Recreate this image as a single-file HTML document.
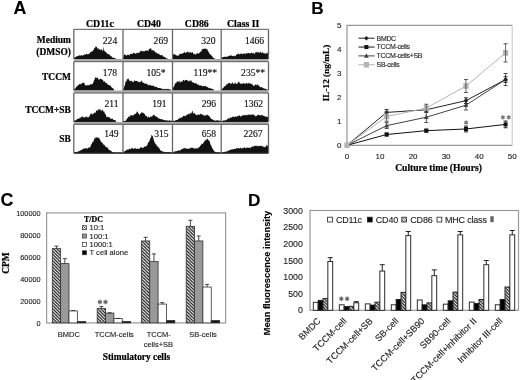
<!DOCTYPE html>
<html><head><meta charset="utf-8"><style>
html,body{margin:0;padding:0;background:#fff;}
body{width:520px;height:380px;overflow:hidden;}
svg{display:block;filter:blur(0.3px);}
</style></head><body>
<svg width="520" height="380" viewBox="0 0 520 380">
<rect width="520" height="380" fill="#fff"/>
<text x="13.50" y="13.90" font-family="'Liberation Sans', sans-serif" font-size="17.8" font-weight="bold" text-anchor="start" fill="#000"  stroke="#000" stroke-width="0.12">A</text>
<text x="311.20" y="13.90" font-family="'Liberation Sans', sans-serif" font-size="17.2" font-weight="bold" text-anchor="start" fill="#000"  stroke="#000" stroke-width="0.12">B</text>
<text x="0.40" y="205.70" font-family="'Liberation Sans', sans-serif" font-size="17.8" font-weight="bold" text-anchor="start" fill="#000"  stroke="#000" stroke-width="0.12">C</text>
<text x="247.90" y="205.80" font-family="'Liberation Sans', sans-serif" font-size="17.2" font-weight="bold" text-anchor="start" fill="#000"  stroke="#000" stroke-width="0.12">D</text>
<path d="M74.00,59.00 L74.00,58.36 L74.50,57.63 L75.00,57.55 L75.50,56.73 L76.00,56.99 L76.50,56.57 L77.00,55.98 L77.50,56.38 L78.00,55.67 L78.50,56.02 L79.00,55.43 L79.50,55.31 L80.00,55.61 L80.50,56.02 L81.00,54.95 L81.50,54.98 L82.00,55.44 L82.50,55.79 L83.00,55.17 L83.50,54.81 L84.00,55.56 L84.50,54.09 L85.00,55.20 L85.50,54.26 L86.00,53.94 L86.50,53.80 L87.00,54.01 L87.50,54.72 L88.00,53.62 L88.50,54.17 L89.00,54.02 L89.50,53.23 L90.00,53.19 L90.50,51.95 L91.00,51.57 L91.50,51.49 L92.00,51.97 L92.50,50.94 L93.00,50.19 L93.50,50.30 L94.00,49.08 L94.50,47.70 L95.00,47.94 L95.50,46.70 L96.00,45.91 L96.50,47.09 L97.00,47.31 L97.50,48.55 L98.00,48.68 L98.50,48.07 L99.00,50.30 L99.50,48.68 L100.00,49.51 L100.50,50.42 L101.00,49.10 L101.50,50.01 L102.00,49.12 L102.50,50.73 L103.00,51.10 L103.50,46.33 L104.00,51.38 L104.50,50.29 L105.00,51.61 L105.50,51.89 L106.00,52.36 L106.50,52.62 L107.00,53.80 L107.50,54.35 L108.00,53.81 L108.50,54.36 L109.00,53.67 L109.50,54.90 L110.00,55.07 L110.50,55.94 L111.00,56.30 L111.50,56.26 L112.00,57.03 L112.50,57.69 L113.00,57.27 L113.50,57.88 L114.00,57.83 L114.50,57.98 L115.00,58.11 L115.50,58.84 L116.00,58.52 L116.00,59.00 Z" fill="#111"/>
<path d="M123.00,59.00 L123.00,58.30 L123.50,56.37 L124.00,55.07 L124.50,53.99 L125.00,54.67 L125.50,54.95 L126.00,55.55 L126.50,55.42 L127.00,55.45 L127.50,54.56 L128.00,54.72 L128.50,54.59 L129.00,55.33 L129.50,55.41 L130.00,54.10 L130.50,53.96 L131.00,53.86 L131.50,53.68 L132.00,53.91 L132.50,53.90 L133.00,53.18 L133.50,52.55 L134.00,53.14 L134.50,53.02 L135.00,53.32 L135.50,53.97 L136.00,53.47 L136.50,53.12 L137.00,53.26 L137.50,53.33 L138.00,51.97 L138.50,53.21 L139.00,52.65 L139.50,52.52 L140.00,52.04 L140.50,50.84 L141.00,50.92 L141.50,50.47 L142.00,51.75 L142.50,50.74 L143.00,50.93 L143.50,51.39 L144.00,51.22 L144.50,51.45 L145.00,50.73 L145.50,50.48 L146.00,50.66 L146.50,50.41 L147.00,50.84 L147.50,49.98 L148.00,51.48 L148.50,50.56 L149.00,49.12 L149.50,48.99 L150.00,48.86 L150.50,48.54 L151.00,47.75 L151.50,50.04 L152.00,50.84 L152.50,50.06 L153.00,50.58 L153.50,50.17 L154.00,50.55 L154.50,51.39 L155.00,51.56 L155.50,52.98 L156.00,52.04 L156.50,52.13 L157.00,54.09 L157.50,53.62 L158.00,53.18 L158.50,54.03 L159.00,53.40 L159.50,54.39 L160.00,55.27 L160.50,55.27 L161.00,55.21 L161.50,54.85 L162.00,55.31 L162.50,55.37 L163.00,56.45 L163.50,56.45 L164.00,57.04 L164.50,56.85 L165.00,57.06 L165.50,57.86 L166.00,58.20 L166.50,58.25 L167.00,58.39 L167.50,58.58 L168.00,58.69 L168.00,59.00 Z" fill="#111"/>
<path d="M172.50,59.00 L172.50,58.28 L173.00,55.31 L173.50,54.07 L174.00,54.10 L174.50,54.32 L175.00,54.68 L175.50,54.65 L176.00,55.28 L176.50,55.66 L177.00,54.92 L177.50,55.63 L178.00,55.70 L178.50,55.66 L179.00,54.70 L179.50,54.22 L180.00,53.96 L180.50,53.65 L181.00,53.39 L181.50,53.83 L182.00,54.06 L182.50,53.72 L183.00,52.82 L183.50,52.89 L184.00,53.02 L184.50,51.57 L185.00,52.59 L185.50,53.00 L186.00,52.67 L186.50,52.53 L187.00,51.96 L187.50,51.36 L188.00,52.57 L188.50,51.67 L189.00,52.60 L189.50,52.93 L190.00,51.79 L190.50,51.80 L191.00,53.07 L191.50,52.89 L192.00,52.11 L192.50,52.30 L193.00,52.62 L193.50,54.18 L194.00,54.25 L194.50,53.43 L195.00,54.47 L195.50,54.66 L196.00,54.07 L196.50,53.50 L197.00,53.77 L197.50,53.00 L198.00,52.74 L198.50,54.31 L199.00,53.27 L199.50,52.55 L200.00,52.86 L200.50,51.36 L201.00,51.80 L201.50,51.23 L202.00,49.32 L202.50,48.97 L203.00,48.90 L203.50,48.61 L204.00,49.31 L204.50,48.39 L205.00,48.80 L205.50,48.07 L206.00,50.03 L206.50,48.63 L207.00,48.89 L207.50,49.62 L208.00,51.39 L208.50,51.36 L209.00,53.36 L209.50,53.38 L210.00,54.05 L210.50,54.66 L211.00,54.58 L211.50,55.80 L212.00,56.13 L212.50,56.60 L213.00,58.03 L213.50,57.81 L214.00,58.23 L214.50,58.60 L215.00,58.61 L215.10,59.00 Z" fill="#111"/>
<path d="M221.50,59.00 L221.50,58.36 L222.00,57.42 L222.50,57.36 L223.00,57.51 L223.50,56.70 L224.00,57.09 L224.50,56.66 L225.00,56.59 L225.50,57.05 L226.00,56.66 L226.50,56.63 L227.00,56.75 L227.50,56.79 L228.00,56.07 L228.50,56.13 L229.00,55.85 L229.50,55.71 L230.00,55.80 L230.50,55.32 L231.00,55.38 L231.50,55.40 L232.00,56.11 L232.50,55.87 L233.00,56.19 L233.50,56.36 L234.00,55.57 L234.50,56.04 L235.00,56.42 L235.50,56.04 L236.00,54.83 L236.50,54.54 L237.00,54.74 L237.50,53.92 L238.00,53.90 L238.50,53.36 L239.00,54.22 L239.50,54.35 L240.00,54.48 L240.50,53.18 L241.00,54.05 L241.50,53.90 L242.00,52.96 L242.50,54.15 L243.00,54.28 L243.50,52.97 L244.00,54.20 L244.50,53.22 L245.00,53.35 L245.50,54.20 L246.00,53.90 L246.50,52.71 L247.00,53.21 L247.50,53.38 L248.00,53.10 L248.50,52.88 L249.00,53.12 L249.50,53.84 L250.00,52.66 L250.50,53.58 L251.00,53.32 L251.50,52.52 L252.00,53.00 L252.50,53.45 L253.00,53.19 L253.50,52.33 L254.00,53.91 L254.50,53.49 L255.00,53.74 L255.50,52.07 L256.00,52.28 L256.50,51.77 L257.00,53.07 L257.50,52.02 L258.00,51.66 L258.50,52.14 L259.00,53.00 L259.50,52.74 L260.00,51.56 L260.50,51.43 L261.00,53.11 L261.50,52.63 L262.00,53.06 L262.50,52.14 L263.00,52.29 L263.50,53.60 L264.00,53.33 L264.50,52.71 L265.00,54.13 L265.50,53.53 L266.00,53.75 L266.50,52.41 L267.00,53.71 L267.50,52.22 L268.00,53.65 L268.00,59.00 Z" fill="#111"/>
<line x1="73.8" y1="29.3" x2="268.5" y2="29.3" stroke="#555" stroke-width="1"/>
<rect x="73.8" y="59.0" width="194.7" height="2.3" fill="#aaa"/>
<line x1="73.8" y1="29.3" x2="73.8" y2="59.0" stroke="#666" stroke-width="1.3"/>
<line x1="123.0" y1="29.3" x2="123.0" y2="59.0" stroke="#666" stroke-width="1.3"/>
<line x1="172.5" y1="29.3" x2="172.5" y2="59.0" stroke="#666" stroke-width="1.3"/>
<line x1="221.2" y1="29.3" x2="221.2" y2="59.0" stroke="#666" stroke-width="1.3"/>
<line x1="268.5" y1="29.3" x2="268.5" y2="59.0" stroke="#666" stroke-width="1.3"/>
<path d="M74.00,90.50 L74.00,89.36 L74.50,88.74 L75.00,88.46 L75.50,88.43 L76.00,87.16 L76.50,86.47 L77.00,86.54 L77.50,85.76 L78.00,85.20 L78.50,84.91 L79.00,84.36 L79.50,84.25 L80.00,84.12 L80.50,83.88 L81.00,84.50 L81.50,83.39 L82.00,83.57 L82.50,82.71 L83.00,82.82 L83.50,82.23 L84.00,83.25 L84.50,83.36 L85.00,85.18 L85.50,85.38 L86.00,84.94 L86.50,85.33 L87.00,86.00 L87.50,84.54 L88.00,85.66 L88.50,84.92 L89.00,84.88 L89.50,85.28 L90.00,84.31 L90.50,84.32 L91.00,84.47 L91.50,84.84 L92.00,83.43 L92.50,84.19 L93.00,83.16 L93.50,82.06 L94.00,80.53 L94.50,79.41 L95.00,77.91 L95.50,77.38 L96.00,76.52 L96.50,78.54 L97.00,77.65 L97.50,77.75 L98.00,77.65 L98.50,79.66 L99.00,79.83 L99.50,79.43 L100.00,78.61 L100.50,78.67 L101.00,78.95 L101.50,79.54 L102.00,79.02 L102.50,79.98 L103.00,79.75 L103.50,81.74 L104.00,81.98 L104.50,81.23 L105.00,81.14 L105.50,83.35 L106.00,82.53 L106.50,83.25 L107.00,83.21 L107.50,84.39 L108.00,84.81 L108.50,85.10 L109.00,84.86 L109.50,85.61 L110.00,85.08 L110.50,85.90 L111.00,86.32 L111.50,87.39 L112.00,87.62 L112.50,88.04 L113.00,88.60 L113.50,88.79 L114.00,89.38 L114.20,90.50 Z" fill="#111"/>
<path d="M123.00,90.50 L123.00,89.43 L123.50,88.72 L124.00,87.70 L124.50,86.06 L125.00,84.65 L125.50,82.06 L126.00,80.92 L126.50,81.58 L127.00,78.50 L127.50,79.22 L128.00,79.31 L128.50,78.09 L129.00,80.38 L129.50,80.81 L130.00,80.45 L130.50,81.06 L131.00,81.57 L131.50,80.27 L132.00,81.52 L132.50,81.81 L133.00,82.52 L133.50,81.85 L134.00,81.31 L134.50,80.06 L135.00,80.88 L135.50,80.83 L136.00,81.33 L136.50,80.70 L137.00,80.75 L137.50,81.50 L138.00,82.08 L138.50,81.32 L139.00,82.76 L139.50,81.94 L140.00,81.91 L140.50,81.72 L141.00,81.66 L141.50,81.01 L142.00,80.17 L142.50,82.46 L143.00,82.76 L143.50,82.64 L144.00,83.14 L144.50,83.82 L145.00,82.82 L145.50,84.29 L146.00,83.53 L146.50,83.38 L147.00,83.90 L147.50,84.91 L148.00,84.08 L148.50,85.13 L149.00,85.64 L149.50,84.90 L150.00,84.81 L150.50,85.08 L151.00,85.52 L151.50,85.78 L152.00,85.75 L152.50,86.00 L153.00,85.35 L153.50,85.69 L154.00,86.08 L154.50,86.99 L155.00,86.60 L155.50,87.14 L156.00,86.53 L156.50,86.73 L157.00,87.13 L157.50,87.77 L158.00,87.91 L158.50,88.01 L159.00,87.68 L159.50,88.07 L160.00,88.14 L160.50,88.27 L161.00,88.02 L161.50,88.98 L162.00,88.38 L162.50,89.31 L163.00,89.38 L163.50,88.52 L164.00,88.96 L164.50,89.32 L165.00,89.46 L165.50,88.95 L166.00,88.77 L166.50,88.71 L167.00,89.44 L167.50,88.76 L168.00,89.17 L168.50,88.80 L169.00,89.22 L169.50,89.67 L170.00,88.95 L170.50,89.65 L171.00,89.41 L171.00,90.50 Z" fill="#111"/>
<path d="M172.50,90.50 L172.50,89.76 L173.00,88.24 L173.50,86.77 L174.00,86.84 L174.50,85.35 L175.00,83.64 L175.50,82.89 L176.00,83.17 L176.50,82.42 L177.00,81.54 L177.50,81.13 L178.00,81.53 L178.50,81.42 L179.00,82.56 L179.50,80.59 L180.00,82.26 L180.50,82.42 L181.00,80.62 L181.50,82.29 L182.00,81.55 L182.50,81.79 L183.00,80.04 L183.50,80.01 L184.00,79.82 L184.50,81.34 L185.00,80.45 L185.50,80.02 L186.00,80.33 L186.50,80.10 L187.00,79.69 L187.50,79.97 L188.00,81.81 L188.50,80.48 L189.00,82.06 L189.50,80.39 L190.00,80.43 L190.50,81.03 L191.00,80.25 L191.50,80.69 L192.00,82.30 L192.50,82.36 L193.00,82.44 L193.50,82.27 L194.00,83.14 L194.50,83.44 L195.00,82.85 L195.50,83.45 L196.00,82.41 L196.50,84.10 L197.00,83.87 L197.50,84.75 L198.00,84.86 L198.50,84.55 L199.00,84.49 L199.50,86.20 L200.00,84.98 L200.50,85.59 L201.00,85.45 L201.50,85.44 L202.00,86.20 L202.50,86.63 L203.00,85.58 L203.50,86.26 L204.00,85.85 L204.50,86.37 L205.00,86.26 L205.50,86.06 L206.00,86.19 L206.50,86.39 L207.00,87.48 L207.50,87.10 L208.00,87.00 L208.50,88.12 L209.00,88.46 L209.50,88.07 L210.00,87.99 L210.50,88.32 L211.00,88.48 L211.50,88.89 L212.00,88.71 L212.50,88.93 L213.00,89.02 L213.50,89.38 L214.00,89.74 L214.10,90.50 Z" fill="#111"/>
<path d="M221.50,90.50 L221.50,89.63 L222.00,88.91 L222.50,88.48 L223.00,88.17 L223.50,87.56 L224.00,87.07 L224.50,86.24 L225.00,86.04 L225.50,86.45 L226.00,84.42 L226.50,84.40 L227.00,84.20 L227.50,84.52 L228.00,83.15 L228.50,83.12 L229.00,82.95 L229.50,83.12 L230.00,83.09 L230.50,84.01 L231.00,83.75 L231.50,83.86 L232.00,82.18 L232.50,82.27 L233.00,83.71 L233.50,84.14 L234.00,83.36 L234.50,83.65 L235.00,82.43 L235.50,83.08 L236.00,84.04 L236.50,83.71 L237.00,83.65 L237.50,83.78 L238.00,82.12 L238.50,81.68 L239.00,81.86 L239.50,82.78 L240.00,83.24 L240.50,83.90 L241.00,83.57 L241.50,83.54 L242.00,83.90 L242.50,83.42 L243.00,83.60 L243.50,82.59 L244.00,84.06 L244.50,82.97 L245.00,84.33 L245.50,83.79 L246.00,83.11 L246.50,82.76 L247.00,83.01 L247.50,83.77 L248.00,83.89 L248.50,82.73 L249.00,82.65 L249.50,83.55 L250.00,83.66 L250.50,83.35 L251.00,83.39 L251.50,84.44 L252.00,83.73 L252.50,84.61 L253.00,85.23 L253.50,86.20 L254.00,85.56 L254.50,85.84 L255.00,85.02 L255.50,84.48 L256.00,84.37 L256.50,85.49 L257.00,84.92 L257.50,84.41 L258.00,84.36 L258.50,85.58 L259.00,86.27 L259.50,86.30 L260.00,86.50 L260.50,87.33 L261.00,87.84 L261.50,87.12 L262.00,87.07 L262.50,87.63 L263.00,87.91 L263.50,88.39 L264.00,88.03 L264.50,88.84 L265.00,88.92 L265.50,88.82 L266.00,88.66 L266.50,89.56 L267.00,89.08 L267.50,89.69 L267.50,90.50 Z" fill="#111"/>
<line x1="73.8" y1="61.7" x2="268.5" y2="61.7" stroke="#555" stroke-width="1"/>
<rect x="73.8" y="90.5" width="194.7" height="2.3" fill="#aaa"/>
<line x1="73.8" y1="61.7" x2="73.8" y2="90.5" stroke="#666" stroke-width="1.3"/>
<line x1="123.0" y1="61.7" x2="123.0" y2="90.5" stroke="#666" stroke-width="1.3"/>
<line x1="172.5" y1="61.7" x2="172.5" y2="90.5" stroke="#666" stroke-width="1.3"/>
<line x1="221.2" y1="61.7" x2="221.2" y2="90.5" stroke="#666" stroke-width="1.3"/>
<line x1="268.5" y1="61.7" x2="268.5" y2="90.5" stroke="#666" stroke-width="1.3"/>
<path d="M74.00,121.90 L74.00,120.66 L74.50,120.39 L75.00,120.67 L75.50,119.95 L76.00,120.39 L76.50,119.65 L77.00,119.03 L77.50,118.81 L78.00,118.79 L78.50,118.85 L79.00,118.99 L79.50,117.64 L80.00,117.72 L80.50,117.20 L81.00,118.15 L81.50,116.78 L82.00,116.53 L82.50,116.44 L83.00,116.86 L83.50,117.57 L84.00,117.46 L84.50,117.11 L85.00,117.46 L85.50,117.26 L86.00,116.30 L86.50,116.23 L87.00,117.62 L87.50,117.47 L88.00,116.51 L88.50,117.66 L89.00,116.81 L89.50,116.01 L90.00,115.14 L90.50,114.02 L91.00,113.37 L91.50,113.77 L92.00,113.76 L92.50,114.89 L93.00,112.92 L93.50,114.61 L94.00,112.54 L94.50,112.45 L95.00,113.15 L95.50,112.75 L96.00,111.35 L96.50,109.96 L97.00,110.70 L97.50,110.12 L98.00,111.17 L98.50,109.02 L99.00,109.12 L99.50,110.14 L100.00,108.34 L100.50,109.69 L101.00,111.08 L101.50,111.31 L102.00,109.65 L102.50,109.80 L103.00,110.03 L103.50,112.35 L104.00,110.85 L104.50,112.47 L105.00,114.05 L105.50,114.09 L106.00,115.30 L106.50,117.33 L107.00,116.94 L107.50,116.55 L108.00,117.46 L108.50,117.01 L109.00,117.14 L109.50,116.93 L110.00,118.22 L110.50,118.65 L111.00,118.50 L111.50,119.15 L112.00,118.21 L112.50,118.74 L113.00,119.29 L113.50,120.09 L114.00,120.32 L114.50,119.96 L115.00,120.08 L115.50,120.53 L116.00,120.84 L116.10,121.90 Z" fill="#111"/>
<path d="M123.00,121.90 L123.00,121.29 L123.50,120.53 L124.00,121.02 L124.50,120.88 L125.00,120.88 L125.50,120.76 L126.00,120.52 L126.50,119.44 L127.00,118.64 L127.50,117.90 L128.00,117.85 L128.50,116.50 L129.00,116.42 L129.50,117.08 L130.00,115.97 L130.50,115.39 L131.00,115.01 L131.50,115.58 L132.00,114.78 L132.50,115.71 L133.00,115.36 L133.50,115.69 L134.00,114.37 L134.50,114.15 L135.00,113.79 L135.50,113.92 L136.00,113.71 L136.50,112.42 L137.00,111.19 L137.50,111.75 L138.00,112.86 L138.50,113.58 L139.00,114.33 L139.50,115.12 L140.00,114.49 L140.50,112.81 L141.00,113.94 L141.50,112.18 L142.00,112.34 L142.50,112.18 L143.00,113.55 L143.50,112.84 L144.00,113.48 L144.50,114.01 L145.00,114.25 L145.50,116.08 L146.00,115.90 L146.50,115.86 L147.00,116.40 L147.50,117.77 L148.00,116.99 L148.50,116.55 L149.00,117.48 L149.50,117.23 L150.00,117.77 L150.50,116.26 L151.00,116.50 L151.50,116.73 L152.00,116.42 L152.50,116.28 L153.00,114.65 L153.50,115.12 L154.00,114.80 L154.50,114.93 L155.00,116.39 L155.50,115.83 L156.00,116.84 L156.50,116.27 L157.00,117.49 L157.50,117.23 L158.00,117.36 L158.50,118.45 L159.00,118.92 L159.50,118.05 L160.00,118.95 L160.50,119.22 L161.00,119.00 L161.50,119.36 L162.00,119.23 L162.50,119.43 L163.00,119.62 L163.50,120.11 L164.00,120.29 L164.50,119.96 L165.00,119.90 L165.50,120.27 L166.00,120.65 L166.50,120.21 L167.00,120.37 L167.50,120.30 L168.00,120.91 L168.50,120.71 L169.00,120.29 L169.50,120.36 L170.00,120.67 L170.50,120.85 L171.00,120.96 L171.50,120.50 L172.00,120.60 L172.00,121.90 Z" fill="#111"/>
<path d="M172.50,121.90 L172.50,121.08 L173.00,120.78 L173.50,120.63 L174.00,120.61 L174.50,121.17 L175.00,120.53 L175.50,120.54 L176.00,120.10 L176.50,119.92 L177.00,120.18 L177.50,120.11 L178.00,119.15 L178.50,118.71 L179.00,119.10 L179.50,118.09 L180.00,117.47 L180.50,118.41 L181.00,117.39 L181.50,117.68 L182.00,116.76 L182.50,117.37 L183.00,116.51 L183.50,115.83 L184.00,115.39 L184.50,116.16 L185.00,116.12 L185.50,116.40 L186.00,114.65 L186.50,115.43 L187.00,114.72 L187.50,114.76 L188.00,113.80 L188.50,113.85 L189.00,114.13 L189.50,114.69 L190.00,112.53 L190.50,113.04 L191.00,113.43 L191.50,113.50 L192.00,111.25 L192.50,110.72 L193.00,113.11 L193.50,113.66 L194.00,112.99 L194.50,112.56 L195.00,114.72 L195.50,113.80 L196.00,115.13 L196.50,114.78 L197.00,115.42 L197.50,114.35 L198.00,115.42 L198.50,114.12 L199.00,114.32 L199.50,115.06 L200.00,114.87 L200.50,113.41 L201.00,113.75 L201.50,114.37 L202.00,114.86 L202.50,114.84 L203.00,114.60 L203.50,115.03 L204.00,115.87 L204.50,116.15 L205.00,114.48 L205.50,115.42 L206.00,115.74 L206.50,114.31 L207.00,115.80 L207.50,114.36 L208.00,115.24 L208.50,115.39 L209.00,116.19 L209.50,116.32 L210.00,117.19 L210.50,118.11 L211.00,118.57 L211.50,119.29 L212.00,119.28 L212.50,119.53 L213.00,119.34 L213.50,120.23 L214.00,120.35 L214.50,120.18 L215.00,120.74 L215.50,120.79 L216.00,120.51 L216.50,120.28 L217.00,120.60 L217.50,120.29 L218.00,120.35 L218.50,120.67 L219.00,120.39 L219.50,120.75 L220.00,120.84 L220.50,120.45 L221.00,121.02 L221.00,121.90 Z" fill="#111"/>
<path d="M221.50,121.90 L221.50,120.53 L222.00,121.05 L222.50,121.03 L223.00,120.72 L223.50,120.14 L224.00,120.44 L224.50,120.18 L225.00,120.63 L225.50,119.65 L226.00,120.24 L226.50,120.09 L227.00,119.46 L227.50,119.24 L228.00,118.09 L228.50,118.83 L229.00,117.90 L229.50,118.45 L230.00,118.28 L230.50,117.03 L231.00,117.85 L231.50,117.95 L232.00,116.47 L232.50,116.79 L233.00,117.36 L233.50,116.33 L234.00,117.47 L234.50,116.38 L235.00,117.21 L235.50,116.03 L236.00,116.57 L236.50,117.21 L237.00,115.94 L237.50,115.97 L238.00,116.33 L238.50,115.94 L239.00,115.39 L239.50,115.58 L240.00,115.47 L240.50,116.79 L241.00,116.22 L241.50,116.49 L242.00,115.04 L242.50,116.05 L243.00,114.67 L243.50,115.33 L244.00,115.41 L244.50,114.74 L245.00,115.69 L245.50,115.00 L246.00,114.99 L246.50,115.53 L247.00,113.91 L247.50,115.64 L248.00,114.84 L248.50,114.31 L249.00,115.14 L249.50,114.05 L250.00,115.53 L250.50,114.69 L251.00,114.24 L251.50,115.07 L252.00,114.41 L252.50,113.95 L253.00,115.27 L253.50,114.08 L254.00,115.77 L254.50,114.87 L255.00,115.78 L255.50,116.59 L256.00,116.04 L256.50,116.24 L257.00,115.48 L257.50,114.78 L258.00,114.71 L258.50,114.79 L259.00,115.54 L259.50,115.07 L260.00,115.09 L260.50,115.90 L261.00,114.62 L261.50,115.00 L262.00,115.98 L262.50,115.03 L263.00,115.20 L263.50,116.01 L264.00,115.78 L264.50,116.30 L265.00,116.14 L265.50,116.81 L266.00,116.88 L266.50,116.31 L267.00,117.06 L267.50,116.88 L268.00,116.39 L268.00,121.90 Z" fill="#111"/>
<line x1="73.8" y1="93.0" x2="268.5" y2="93.0" stroke="#555" stroke-width="1"/>
<rect x="73.8" y="121.9" width="194.7" height="2.3" fill="#aaa"/>
<line x1="73.8" y1="93.0" x2="73.8" y2="121.9" stroke="#666" stroke-width="1.3"/>
<line x1="123.0" y1="93.0" x2="123.0" y2="121.9" stroke="#666" stroke-width="1.3"/>
<line x1="172.5" y1="93.0" x2="172.5" y2="121.9" stroke="#666" stroke-width="1.3"/>
<line x1="221.2" y1="93.0" x2="221.2" y2="121.9" stroke="#666" stroke-width="1.3"/>
<line x1="268.5" y1="93.0" x2="268.5" y2="121.9" stroke="#666" stroke-width="1.3"/>
<path d="M74.00,153.00 L74.00,153.00 L74.50,152.44 L75.00,152.10 L75.50,151.92 L76.00,152.26 L76.50,152.35 L77.00,152.15 L77.50,151.67 L78.00,151.41 L78.50,151.03 L79.00,151.50 L79.50,151.10 L80.00,150.55 L80.50,150.58 L81.00,150.02 L81.50,150.35 L82.00,149.78 L82.50,148.79 L83.00,149.52 L83.50,148.21 L84.00,148.86 L84.50,148.61 L85.00,148.29 L85.50,147.96 L86.00,148.98 L86.50,147.75 L87.00,148.45 L87.50,148.91 L88.00,147.47 L88.50,147.39 L89.00,147.90 L89.50,147.57 L90.00,147.28 L90.50,146.86 L91.00,144.80 L91.50,144.28 L92.00,143.19 L92.50,141.43 L93.00,142.44 L93.50,141.07 L94.00,140.11 L94.50,137.61 L95.00,139.00 L95.50,138.04 L96.00,136.62 L96.50,137.81 L97.00,137.57 L97.50,137.49 L98.00,137.67 L98.50,138.11 L99.00,137.75 L99.50,138.62 L100.00,139.79 L100.50,140.55 L101.00,141.83 L101.50,142.40 L102.00,142.10 L102.50,143.31 L103.00,143.51 L103.50,144.82 L104.00,144.70 L104.50,144.64 L105.00,145.94 L105.50,147.06 L106.00,146.14 L106.50,147.84 L107.00,146.86 L107.50,147.76 L108.00,148.15 L108.50,149.31 L109.00,149.98 L109.50,150.10 L110.00,149.97 L110.50,151.03 L111.00,150.79 L111.50,151.10 L112.00,152.13 L112.50,152.17 L113.00,152.46 L113.50,152.67 L114.00,153.00 L114.20,153.00 Z" fill="#111"/>
<path d="M123.00,153.00 L123.00,152.86 L123.50,152.44 L124.00,151.61 L124.50,151.53 L125.00,150.84 L125.50,150.91 L126.00,150.48 L126.50,149.91 L127.00,149.55 L127.50,149.95 L128.00,149.11 L128.50,150.09 L129.00,148.93 L129.50,148.63 L130.00,148.61 L130.50,149.65 L131.00,148.71 L131.50,148.35 L132.00,148.12 L132.50,148.07 L133.00,148.97 L133.50,148.82 L134.00,148.86 L134.50,148.86 L135.00,147.80 L135.50,148.61 L136.00,148.26 L136.50,148.96 L137.00,148.96 L137.50,149.07 L138.00,147.80 L138.50,149.04 L139.00,149.04 L139.50,148.97 L140.00,147.52 L140.50,147.54 L141.00,147.26 L141.50,146.99 L142.00,148.23 L142.50,148.05 L143.00,147.62 L143.50,147.83 L144.00,147.37 L144.50,146.63 L145.00,146.16 L145.50,146.02 L146.00,147.12 L146.50,145.95 L147.00,145.28 L147.50,144.63 L148.00,142.81 L148.50,142.47 L149.00,141.37 L149.50,141.30 L150.00,139.26 L150.50,137.89 L151.00,137.88 L151.50,135.08 L152.00,135.01 L152.50,136.22 L153.00,136.54 L153.50,139.17 L154.00,140.39 L154.50,142.40 L155.00,142.49 L155.50,144.32 L156.00,144.57 L156.50,144.53 L157.00,146.52 L157.50,145.67 L158.00,147.67 L158.50,147.18 L159.00,147.54 L159.50,148.48 L160.00,149.86 L160.50,150.69 L161.00,150.12 L161.50,151.01 L162.00,151.17 L162.50,151.65 L163.00,151.20 L163.50,151.67 L164.00,151.69 L164.50,152.23 L165.00,151.77 L165.50,152.43 L166.00,151.89 L166.50,151.88 L167.00,152.36 L167.50,152.23 L168.00,151.95 L168.50,152.45 L169.00,152.03 L169.50,152.66 L170.00,152.61 L170.50,152.72 L171.00,152.62 L171.50,152.44 L172.00,152.51 L172.00,153.00 Z" fill="#111"/>
<path d="M172.50,153.00 L172.50,152.80 L173.00,152.87 L173.50,151.87 L174.00,152.26 L174.50,151.28 L175.00,151.28 L175.50,151.16 L176.00,151.64 L176.50,151.06 L177.00,150.76 L177.50,151.20 L178.00,150.34 L178.50,150.47 L179.00,150.43 L179.50,150.58 L180.00,150.45 L180.50,150.20 L181.00,149.61 L181.50,149.23 L182.00,148.64 L182.50,149.30 L183.00,148.70 L183.50,148.50 L184.00,147.52 L184.50,148.08 L185.00,148.73 L185.50,148.54 L186.00,147.97 L186.50,148.61 L187.00,149.36 L187.50,148.53 L188.00,148.43 L188.50,148.47 L189.00,148.94 L189.50,149.03 L190.00,147.85 L190.50,147.72 L191.00,147.73 L191.50,147.72 L192.00,148.07 L192.50,147.55 L193.00,147.88 L193.50,147.73 L194.00,149.03 L194.50,148.70 L195.00,147.79 L195.50,149.18 L196.00,147.72 L196.50,148.04 L197.00,148.87 L197.50,148.45 L198.00,148.23 L198.50,147.61 L199.00,147.08 L199.50,147.60 L200.00,145.98 L200.50,145.47 L201.00,145.17 L201.50,143.72 L202.00,143.86 L202.50,144.18 L203.00,143.44 L203.50,142.45 L204.00,142.27 L204.50,141.33 L205.00,139.98 L205.50,140.56 L206.00,139.47 L206.50,139.72 L207.00,139.56 L207.50,138.29 L208.00,139.36 L208.50,140.52 L209.00,140.41 L209.50,140.64 L210.00,142.87 L210.50,144.41 L211.00,145.28 L211.50,146.24 L212.00,147.65 L212.50,148.40 L213.00,149.34 L213.50,150.12 L214.00,151.01 L214.50,151.73 L215.00,151.48 L215.50,152.03 L216.00,152.58 L216.50,152.60 L217.00,152.57 L217.50,152.30 L218.00,152.47 L218.50,152.54 L219.00,152.71 L219.50,152.58 L220.00,152.82 L220.00,153.00 Z" fill="#111"/>
<path d="M221.50,153.00 L221.50,153.00 L222.00,152.47 L222.50,152.68 L223.00,152.62 L223.50,152.17 L224.00,152.13 L224.50,152.43 L225.00,151.45 L225.50,151.79 L226.00,151.29 L226.50,151.77 L227.00,151.76 L227.50,151.09 L228.00,150.38 L228.50,150.66 L229.00,150.38 L229.50,150.36 L230.00,149.86 L230.50,149.78 L231.00,149.87 L231.50,149.39 L232.00,149.18 L232.50,149.86 L233.00,148.77 L233.50,149.37 L234.00,148.89 L234.50,149.36 L235.00,148.37 L235.50,149.57 L236.00,148.58 L236.50,148.07 L237.00,148.33 L237.50,148.46 L238.00,147.81 L238.50,148.36 L239.00,148.30 L239.50,148.67 L240.00,148.06 L240.50,147.86 L241.00,147.73 L241.50,148.49 L242.00,148.75 L242.50,148.02 L243.00,147.49 L243.50,148.40 L244.00,147.69 L244.50,147.36 L245.00,147.18 L245.50,148.22 L246.00,148.24 L246.50,147.91 L247.00,147.61 L247.50,147.74 L248.00,147.15 L248.50,148.37 L249.00,147.31 L249.50,147.77 L250.00,148.05 L250.50,148.00 L251.00,147.21 L251.50,146.71 L252.00,146.97 L252.50,146.00 L253.00,147.14 L253.50,146.04 L254.00,146.82 L254.50,145.59 L255.00,145.86 L255.50,145.69 L256.00,146.09 L256.50,145.69 L257.00,145.41 L257.50,146.84 L258.00,146.07 L258.50,145.93 L259.00,145.86 L259.50,146.04 L260.00,145.78 L260.50,146.04 L261.00,145.92 L261.50,145.36 L262.00,146.69 L262.50,146.72 L263.00,145.35 L263.50,147.02 L264.00,147.35 L264.50,147.30 L265.00,146.31 L265.50,147.34 L266.00,146.65 L266.50,145.10 L267.00,144.72 L267.50,146.32 L268.00,145.37 L268.00,153.00 Z" fill="#111"/>
<line x1="73.8" y1="124.3" x2="268.5" y2="124.3" stroke="#555" stroke-width="1"/>
<rect x="73.8" y="152.2" width="194.7" height="1.6" fill="#222"/>
<line x1="73.8" y1="124.3" x2="73.8" y2="153.0" stroke="#666" stroke-width="1.3"/>
<line x1="123.0" y1="124.3" x2="123.0" y2="153.0" stroke="#666" stroke-width="1.3"/>
<line x1="172.5" y1="124.3" x2="172.5" y2="153.0" stroke="#666" stroke-width="1.3"/>
<line x1="221.2" y1="124.3" x2="221.2" y2="153.0" stroke="#666" stroke-width="1.3"/>
<line x1="268.5" y1="124.3" x2="268.5" y2="153.0" stroke="#666" stroke-width="1.3"/>
<text x="99.90" y="27.40" font-family="'Liberation Serif', serif" font-size="9.8" font-weight="bold" text-anchor="middle" fill="#000"  stroke="#000" stroke-width="0.22">CD11c</text>
<text x="148.90" y="27.40" font-family="'Liberation Serif', serif" font-size="9.8" font-weight="bold" text-anchor="middle" fill="#000"  stroke="#000" stroke-width="0.22">CD40</text>
<text x="196.80" y="27.40" font-family="'Liberation Serif', serif" font-size="9.8" font-weight="bold" text-anchor="middle" fill="#000"  stroke="#000" stroke-width="0.22">CD86</text>
<text x="243.20" y="27.40" font-family="'Liberation Serif', serif" font-size="9.8" font-weight="bold" text-anchor="middle" fill="#000"  stroke="#000" stroke-width="0.22">Class II</text>
<text x="70.90" y="42.60" font-family="'Liberation Serif', serif" font-size="9.45" font-weight="bold" text-anchor="end" fill="#000"  stroke="#000" stroke-width="0.22">Medium</text>
<text x="70.90" y="54.50" font-family="'Liberation Serif', serif" font-size="9.45" font-weight="bold" text-anchor="end" fill="#000"  stroke="#000" stroke-width="0.22">(DMSO)</text>
<text x="70.90" y="80.20" font-family="'Liberation Serif', serif" font-size="9.45" font-weight="bold" text-anchor="end" fill="#000"  stroke="#000" stroke-width="0.22">TCCM</text>
<text x="70.90" y="112.80" font-family="'Liberation Serif', serif" font-size="9.45" font-weight="bold" text-anchor="end" fill="#000"  stroke="#000" stroke-width="0.22">TCCM+SB</text>
<text x="70.90" y="142.10" font-family="'Liberation Serif', serif" font-size="9.45" font-weight="bold" text-anchor="end" fill="#000"  stroke="#000" stroke-width="0.22">SB</text>
<text x="117.20" y="43.80" font-family="'Liberation Serif', serif" font-size="9.6" font-weight="normal" text-anchor="end" fill="#111" stroke="#111" stroke-width="0.15">224</text>
<text x="168.00" y="43.80" font-family="'Liberation Serif', serif" font-size="9.6" font-weight="normal" text-anchor="end" fill="#111" stroke="#111" stroke-width="0.15">269</text>
<text x="215.60" y="43.80" font-family="'Liberation Serif', serif" font-size="9.6" font-weight="normal" text-anchor="end" fill="#111" stroke="#111" stroke-width="0.15">320</text>
<text x="264.10" y="43.80" font-family="'Liberation Serif', serif" font-size="9.6" font-weight="normal" text-anchor="end" fill="#111" stroke="#111" stroke-width="0.15">1466</text>
<text x="117.10" y="75.70" font-family="'Liberation Serif', serif" font-size="9.6" font-weight="normal" text-anchor="end" fill="#111" stroke="#111" stroke-width="0.15">178</text>
<text x="165.60" y="75.70" font-family="'Liberation Serif', serif" font-size="9.6" font-weight="normal" text-anchor="end" fill="#111" stroke="#111" stroke-width="0.15">105*</text>
<text x="217.10" y="75.70" font-family="'Liberation Serif', serif" font-size="9.6" font-weight="normal" text-anchor="end" fill="#111" stroke="#111" stroke-width="0.15">119**</text>
<text x="265.10" y="75.70" font-family="'Liberation Serif', serif" font-size="9.6" font-weight="normal" text-anchor="end" fill="#111" stroke="#111" stroke-width="0.15">235**</text>
<text x="118.60" y="106.70" font-family="'Liberation Serif', serif" font-size="9.6" font-weight="normal" text-anchor="end" fill="#111" stroke="#111" stroke-width="0.15">211</text>
<text x="166.60" y="106.70" font-family="'Liberation Serif', serif" font-size="9.6" font-weight="normal" text-anchor="end" fill="#111" stroke="#111" stroke-width="0.15">191</text>
<text x="216.10" y="106.70" font-family="'Liberation Serif', serif" font-size="9.6" font-weight="normal" text-anchor="end" fill="#111" stroke="#111" stroke-width="0.15">296</text>
<text x="263.10" y="106.70" font-family="'Liberation Serif', serif" font-size="9.6" font-weight="normal" text-anchor="end" fill="#111" stroke="#111" stroke-width="0.15">1362</text>
<text x="118.60" y="136.70" font-family="'Liberation Serif', serif" font-size="9.6" font-weight="normal" text-anchor="end" fill="#111" stroke="#111" stroke-width="0.15">149</text>
<text x="168.60" y="136.70" font-family="'Liberation Serif', serif" font-size="9.6" font-weight="normal" text-anchor="end" fill="#111" stroke="#111" stroke-width="0.15">315</text>
<text x="216.10" y="136.70" font-family="'Liberation Serif', serif" font-size="9.6" font-weight="normal" text-anchor="end" fill="#111" stroke="#111" stroke-width="0.15">658</text>
<text x="262.60" y="136.70" font-family="'Liberation Serif', serif" font-size="9.6" font-weight="normal" text-anchor="end" fill="#111" stroke="#111" stroke-width="0.15">2267</text>
<path d="M512.2,25.3 V145.3" stroke="#c4c4c4" stroke-width="1"/>
<path d="M512.2,25.3 H347.0 V145.3 H512.2" fill="none" stroke="#999" stroke-width="1.25"/>
<text x="341.50" y="148.10" font-family="'Liberation Sans', sans-serif" font-size="8.0" font-weight="normal" text-anchor="end" fill="#222"  stroke="#222" stroke-width="0.12">0</text>
<text x="341.50" y="124.10" font-family="'Liberation Sans', sans-serif" font-size="8.0" font-weight="normal" text-anchor="end" fill="#222"  stroke="#222" stroke-width="0.12">1</text>
<text x="341.50" y="100.10" font-family="'Liberation Sans', sans-serif" font-size="8.0" font-weight="normal" text-anchor="end" fill="#222"  stroke="#222" stroke-width="0.12">2</text>
<text x="341.50" y="76.10" font-family="'Liberation Sans', sans-serif" font-size="8.0" font-weight="normal" text-anchor="end" fill="#222"  stroke="#222" stroke-width="0.12">3</text>
<text x="341.50" y="52.10" font-family="'Liberation Sans', sans-serif" font-size="8.0" font-weight="normal" text-anchor="end" fill="#222"  stroke="#222" stroke-width="0.12">4</text>
<text x="341.50" y="28.10" font-family="'Liberation Sans', sans-serif" font-size="8.0" font-weight="normal" text-anchor="end" fill="#222"  stroke="#222" stroke-width="0.12">5</text>
<text x="347.00" y="159.40" font-family="'Liberation Sans', sans-serif" font-size="8.0" font-weight="normal" text-anchor="middle" fill="#222"  stroke="#222" stroke-width="0.12">0</text>
<text x="380.04" y="159.40" font-family="'Liberation Sans', sans-serif" font-size="8.0" font-weight="normal" text-anchor="middle" fill="#222"  stroke="#222" stroke-width="0.12">10</text>
<text x="413.08" y="159.40" font-family="'Liberation Sans', sans-serif" font-size="8.0" font-weight="normal" text-anchor="middle" fill="#222"  stroke="#222" stroke-width="0.12">20</text>
<text x="446.12" y="159.40" font-family="'Liberation Sans', sans-serif" font-size="8.0" font-weight="normal" text-anchor="middle" fill="#222"  stroke="#222" stroke-width="0.12">30</text>
<text x="479.16" y="159.40" font-family="'Liberation Sans', sans-serif" font-size="8.0" font-weight="normal" text-anchor="middle" fill="#222"  stroke="#222" stroke-width="0.12">40</text>
<text x="512.20" y="159.40" font-family="'Liberation Sans', sans-serif" font-size="8.0" font-weight="normal" text-anchor="middle" fill="#222"  stroke="#222" stroke-width="0.12">50</text>
<polyline points="347.00,145.30 386.65,125.62 426.30,117.22 465.94,105.22 505.59,79.54" fill="none" stroke="#444" stroke-width="1"/>
<path d="M386.648,122.74000000000001 V128.5" stroke="#444" stroke-width="0.9" fill="none"/><path d="M384.648,122.74000000000001 H388.648 M384.648,128.5 H388.648" stroke="#444" stroke-width="0.9" fill="none"/>
<path d="M426.29600000000005,111.94000000000001 V122.5" stroke="#444" stroke-width="0.9" fill="none"/><path d="M424.29600000000005,111.94000000000001 H428.29600000000005 M424.29600000000005,122.5 H428.29600000000005" stroke="#444" stroke-width="0.9" fill="none"/>
<path d="M465.944,100.42000000000002 V110.02000000000001" stroke="#444" stroke-width="0.9" fill="none"/><path d="M463.944,100.42000000000002 H467.944 M463.944,110.02000000000001 H467.944" stroke="#444" stroke-width="0.9" fill="none"/>
<path d="M505.59200000000004,73.53999999999999 V85.53999999999999" stroke="#444" stroke-width="0.9" fill="none"/><path d="M503.59200000000004,73.53999999999999 H507.59200000000004 M503.59200000000004,85.53999999999999 H507.59200000000004" stroke="#444" stroke-width="0.9" fill="none"/>
<path d="M347.0,142.70000000000002 L349.4,147.10000000000002 L344.6,147.10000000000002 Z" fill="#444"/>
<path d="M386.648,123.02000000000001 L389.048,127.42 L384.24800000000005,127.42 Z" fill="#444"/>
<path d="M426.29600000000005,114.62000000000002 L428.696,119.02000000000001 L423.8960000000001,119.02000000000001 Z" fill="#444"/>
<path d="M465.944,102.62000000000002 L468.344,107.02000000000001 L463.54400000000004,107.02000000000001 Z" fill="#444"/>
<path d="M505.59200000000004,76.94 L507.992,81.33999999999999 L503.19200000000006,81.33999999999999 Z" fill="#444"/>
<polyline points="347.00,145.30 386.65,134.50 426.30,130.66 465.94,128.98 505.59,124.42" fill="none" stroke="#111" stroke-width="1"/>
<path d="M386.648,133.06 V135.94" stroke="#111" stroke-width="0.9" fill="none"/><path d="M384.648,133.06 H388.648 M384.648,135.94 H388.648" stroke="#111" stroke-width="0.9" fill="none"/>
<path d="M426.29600000000005,129.22 V132.10000000000002" stroke="#111" stroke-width="0.9" fill="none"/><path d="M424.29600000000005,129.22 H428.29600000000005 M424.29600000000005,132.10000000000002 H428.29600000000005" stroke="#111" stroke-width="0.9" fill="none"/>
<path d="M465.944,126.10000000000001 V131.86" stroke="#111" stroke-width="0.9" fill="none"/><path d="M463.944,126.10000000000001 H467.944 M463.944,131.86 H467.944" stroke="#111" stroke-width="0.9" fill="none"/>
<path d="M505.59200000000004,121.06 V127.78" stroke="#111" stroke-width="0.9" fill="none"/><path d="M503.59200000000004,121.06 H507.59200000000004 M503.59200000000004,127.78 H507.59200000000004" stroke="#111" stroke-width="0.9" fill="none"/>
<rect x="345.0" y="143.3" width="4" height="4" fill="#111"/>
<rect x="384.648" y="132.5" width="4" height="4" fill="#111"/>
<rect x="424.29600000000005" y="128.66000000000003" width="4" height="4" fill="#111"/>
<rect x="463.944" y="126.98000000000002" width="4" height="4" fill="#111"/>
<rect x="503.59200000000004" y="122.42000000000002" width="4" height="4" fill="#111"/>
<polyline points="347.00,145.30 386.65,112.42 426.30,109.78 465.94,100.66 505.59,79.54" fill="none" stroke="#222" stroke-width="1"/>
<path d="M386.648,109.54 V115.30000000000001" stroke="#222" stroke-width="0.9" fill="none"/><path d="M384.648,109.54 H388.648 M384.648,115.30000000000001 H388.648" stroke="#222" stroke-width="0.9" fill="none"/>
<path d="M426.29600000000005,107.38000000000001 V112.18" stroke="#222" stroke-width="0.9" fill="none"/><path d="M424.29600000000005,107.38000000000001 H428.29600000000005 M424.29600000000005,112.18 H428.29600000000005" stroke="#222" stroke-width="0.9" fill="none"/>
<path d="M465.944,97.78 V103.54" stroke="#222" stroke-width="0.9" fill="none"/><path d="M463.944,97.78 H467.944 M463.944,103.54 H467.944" stroke="#222" stroke-width="0.9" fill="none"/>
<path d="M505.59200000000004,76.66 V82.42" stroke="#222" stroke-width="0.9" fill="none"/><path d="M503.59200000000004,76.66 H507.59200000000004 M503.59200000000004,82.42 H507.59200000000004" stroke="#222" stroke-width="0.9" fill="none"/>
<path d="M347.0,143.0 L349.3,145.3 L347.0,147.60000000000002 L344.7,145.3 Z" fill="#222"/>
<path d="M386.648,110.12 L388.94800000000004,112.42 L386.648,114.72 L384.348,112.42 Z" fill="#222"/>
<path d="M426.29600000000005,107.48 L428.59600000000006,109.78 L426.29600000000005,112.08 L423.99600000000004,109.78 Z" fill="#222"/>
<path d="M465.944,98.36 L468.244,100.66 L465.944,102.96 L463.644,100.66 Z" fill="#222"/>
<path d="M505.59200000000004,77.24 L507.89200000000005,79.53999999999999 L505.59200000000004,81.83999999999999 L503.29200000000003,79.53999999999999 Z" fill="#222"/>
<polyline points="347.00,145.30 386.65,116.50 426.30,108.10 465.94,86.02 505.59,52.90" fill="none" stroke="#b4b4b4" stroke-width="1"/>
<rect x="344.4" y="142.5" width="5.2" height="5.6" fill="#b4b4b4"/>
<rect x="384.048" y="113.70000000000002" width="5.2" height="5.6" fill="#b4b4b4"/>
<rect x="423.696" y="105.30000000000001" width="5.2" height="5.6" fill="#b4b4b4"/>
<rect x="463.344" y="83.22000000000001" width="5.2" height="5.6" fill="#b4b4b4"/>
<rect x="502.992" y="50.10000000000001" width="5.2" height="5.6" fill="#b4b4b4"/>
<path d="M386.648,111.70000000000002 V121.30000000000001" stroke="#444" stroke-width="0.8" fill="none"/><path d="M384.648,111.70000000000002 H388.648 M384.648,121.30000000000001 H388.648" stroke="#444" stroke-width="0.9" fill="none"/>
<path d="M426.29600000000005,104.26 V111.94" stroke="#444" stroke-width="0.8" fill="none"/><path d="M424.29600000000005,104.26 H428.29600000000005 M424.29600000000005,111.94 H428.29600000000005" stroke="#444" stroke-width="0.9" fill="none"/>
<path d="M465.944,79.53999999999999 V92.5" stroke="#444" stroke-width="0.8" fill="none"/><path d="M463.944,79.53999999999999 H467.944 M463.944,92.5 H467.944" stroke="#444" stroke-width="0.9" fill="none"/>
<path d="M505.59200000000004,43.77999999999999 V62.019999999999996" stroke="#444" stroke-width="0.8" fill="none"/><path d="M503.59200000000004,43.77999999999999 H507.59200000000004 M503.59200000000004,62.019999999999996 H507.59200000000004" stroke="#444" stroke-width="0.9" fill="none"/>
<path d="M466.10,121.00 L466.10,124.20 M467.49,121.80 L464.71,123.40 M467.49,123.40 L464.71,121.80 " stroke="#777" stroke-width="1.3" stroke-linecap="round"/>
<circle cx="466.10" cy="122.60" r="0.88" fill="#777"/>
<path d="M502.90,115.70 L502.90,118.90 M504.29,116.50 L501.51,118.10 M504.29,118.10 L501.51,116.50 " stroke="#777" stroke-width="1.3" stroke-linecap="round"/>
<circle cx="502.90" cy="117.30" r="0.88" fill="#777"/>
<path d="M508.70,115.70 L508.70,118.90 M510.09,116.50 L507.31,118.10 M510.09,118.10 L507.31,116.50 " stroke="#777" stroke-width="1.3" stroke-linecap="round"/>
<circle cx="508.70" cy="117.30" r="0.88" fill="#777"/>
<line x1="358.5" y1="38.2" x2="374.6" y2="38.2" stroke="#222" stroke-width="1"/>
<path d="M366.4,35.900000000000006 L368.7,38.2 L366.4,40.5 L364.09999999999997,38.2 Z" fill="#222"/>
<text x="376.60" y="40.60" font-family="'Liberation Sans', sans-serif" font-size="7.0" font-weight="normal" text-anchor="start" fill="#222" letter-spacing="-0.35" stroke="#222" stroke-width="0.12">BMDC</text>
<line x1="358.5" y1="47.050000000000004" x2="374.6" y2="47.050000000000004" stroke="#111" stroke-width="1"/>
<rect x="364.4" y="45.050000000000004" width="4" height="4" fill="#111"/>
<text x="376.60" y="49.45" font-family="'Liberation Sans', sans-serif" font-size="7.0" font-weight="normal" text-anchor="start" fill="#222" letter-spacing="-0.35" stroke="#222" stroke-width="0.12">TCCM-cells</text>
<line x1="358.5" y1="55.900000000000006" x2="374.6" y2="55.900000000000006" stroke="#444" stroke-width="1"/>
<path d="M366.4,53.300000000000004 L368.79999999999995,57.7 L364.0,57.7 Z" fill="#444"/>
<text x="376.60" y="58.30" font-family="'Liberation Sans', sans-serif" font-size="7.0" font-weight="normal" text-anchor="start" fill="#222" letter-spacing="-0.35" stroke="#222" stroke-width="0.12">TCCM-cells+SB</text>
<line x1="358.5" y1="64.75" x2="374.6" y2="64.75" stroke="#b4b4b4" stroke-width="1"/>
<rect x="363.79999999999995" y="61.95" width="5.2" height="5.6" fill="#b4b4b4"/>
<text x="376.60" y="67.15" font-family="'Liberation Sans', sans-serif" font-size="7.0" font-weight="normal" text-anchor="start" fill="#222" letter-spacing="-0.35" stroke="#222" stroke-width="0.12">SB-cells</text>
<text x="0.00" y="0.00" font-family="'Liberation Serif', serif" font-size="9.2" font-weight="bold" text-anchor="middle" fill="#000" transform="translate(329.3,73) rotate(-90)" stroke="#000" stroke-width="0.22">IL-12 (ng/mL)</text>
<text x="438.50" y="170.80" font-family="'Liberation Serif', serif" font-size="9.6" font-weight="bold" text-anchor="middle" fill="#000"  stroke="#000" stroke-width="0.22">Culture time (Hours)</text>
<defs><pattern id="hatch" patternUnits="userSpaceOnUse" width="3.2" height="3.2" patternTransform="rotate(0)"><rect width="3.2" height="3.2" fill="#fff"/><path d="M-1,-1 L4.2,4.2 M-1,2.2 L1,4.2 M2.2,-1 L4.2,1" stroke="#111" stroke-width="1.2"/></pattern><pattern id="hatch2" patternUnits="userSpaceOnUse" width="2.6" height="2.6"><rect width="2.6" height="2.6" fill="#fff"/><path d="M-1,-1 L3.6,3.6 M-1,1.6 L1,3.6 M1.6,-1 L3.6,1" stroke="#222" stroke-width="0.8"/></pattern></defs>
<rect x="46.6" y="212.9" width="179.0" height="109.99999999999997" fill="none" stroke="#999" stroke-width="1.2"/>
<text x="40.60" y="325.50" font-family="'Liberation Sans', sans-serif" font-size="7.3" font-weight="normal" text-anchor="end" fill="#222"  stroke="#222" stroke-width="0.12">0</text>
<text x="40.60" y="303.50" font-family="'Liberation Sans', sans-serif" font-size="7.3" font-weight="normal" text-anchor="end" fill="#222"  stroke="#222" stroke-width="0.12">20000</text>
<text x="40.60" y="281.50" font-family="'Liberation Sans', sans-serif" font-size="7.3" font-weight="normal" text-anchor="end" fill="#222"  stroke="#222" stroke-width="0.12">40000</text>
<text x="40.60" y="259.50" font-family="'Liberation Sans', sans-serif" font-size="7.3" font-weight="normal" text-anchor="end" fill="#222"  stroke="#222" stroke-width="0.12">60000</text>
<text x="40.60" y="237.50" font-family="'Liberation Sans', sans-serif" font-size="7.3" font-weight="normal" text-anchor="end" fill="#222"  stroke="#222" stroke-width="0.12">80000</text>
<text x="40.60" y="215.50" font-family="'Liberation Sans', sans-serif" font-size="7.3" font-weight="normal" text-anchor="end" fill="#222"  stroke="#222" stroke-width="0.12">100000</text>
<rect x="52.30" y="248.65" width="8.35" height="74.25" fill="url(#hatch)" stroke="#333" stroke-width="0.8"/>
<path d="M56.47,248.65 V246.12 M54.47,246.12 H58.47" stroke="#333" stroke-width="0.9"/>
<rect x="60.65" y="263.61" width="8.35" height="59.29" fill="#999" stroke="#333" stroke-width="0.8"/>
<path d="M64.83,263.61 V258.66 M62.83,258.66 H66.83" stroke="#333" stroke-width="0.9"/>
<rect x="69.00" y="310.91" width="8.35" height="11.99" fill="#fff" stroke="#333" stroke-width="0.8"/>
<path d="M73.17,310.91 V310.58 M71.17,310.58 H75.17" stroke="#333" stroke-width="0.9"/>
<rect x="77.35" y="321.47" width="8.35" height="1.43" fill="#111" stroke="#333" stroke-width="0.8"/>
<rect x="97.20" y="308.49" width="8.35" height="14.41" fill="url(#hatch)" stroke="#333" stroke-width="0.8"/>
<path d="M101.38,308.49 V306.62 M99.38,306.62 H103.38" stroke="#333" stroke-width="0.9"/>
<rect x="105.55" y="313.11" width="8.35" height="9.79" fill="#999" stroke="#333" stroke-width="0.8"/>
<path d="M109.72,313.11 V312.78 M107.72,312.78 H111.72" stroke="#333" stroke-width="0.9"/>
<rect x="113.90" y="318.61" width="8.35" height="4.29" fill="#fff" stroke="#333" stroke-width="0.8"/>
<path d="M118.08,318.61 V318.39 M116.08,318.39 H120.08" stroke="#333" stroke-width="0.9"/>
<rect x="122.25" y="321.47" width="8.35" height="1.43" fill="#111" stroke="#333" stroke-width="0.8"/>
<rect x="141.40" y="240.95" width="8.35" height="81.95" fill="url(#hatch)" stroke="#333" stroke-width="0.8"/>
<path d="M145.58,240.95 V237.32 M143.58,237.32 H147.58" stroke="#333" stroke-width="0.9"/>
<rect x="149.75" y="261.63" width="8.35" height="61.27" fill="#999" stroke="#333" stroke-width="0.8"/>
<path d="M153.93,261.63 V253.93 M151.93,253.93 H155.93" stroke="#333" stroke-width="0.9"/>
<rect x="158.10" y="304.09" width="8.35" height="18.81" fill="#fff" stroke="#333" stroke-width="0.8"/>
<path d="M162.28,304.09 V302.66 M160.28,302.66 H164.28" stroke="#333" stroke-width="0.9"/>
<rect x="166.45" y="320.59" width="8.35" height="2.31" fill="#111" stroke="#333" stroke-width="0.8"/>
<rect x="186.20" y="226.32" width="8.35" height="96.58" fill="url(#hatch)" stroke="#333" stroke-width="0.8"/>
<path d="M190.38,226.32 V220.27 M188.38,220.27 H192.38" stroke="#333" stroke-width="0.9"/>
<rect x="194.55" y="240.95" width="8.35" height="81.95" fill="#999" stroke="#333" stroke-width="0.8"/>
<path d="M198.72,240.95 V236.00 M196.72,236.00 H200.72" stroke="#333" stroke-width="0.9"/>
<rect x="202.90" y="287.04" width="8.35" height="35.86" fill="#fff" stroke="#333" stroke-width="0.8"/>
<path d="M207.07,287.04 V284.40 M205.07,284.40 H209.07" stroke="#333" stroke-width="0.9"/>
<rect x="211.25" y="320.59" width="8.35" height="2.31" fill="#111" stroke="#333" stroke-width="0.8"/>
<path d="M99.90,300.20 L99.90,303.80 M101.46,301.10 L98.34,302.90 M101.46,302.90 L98.34,301.10 " stroke="#6a6a6a" stroke-width="1.3" stroke-linecap="round"/>
<circle cx="99.90" cy="302.00" r="0.99" fill="#6a6a6a"/>
<path d="M105.50,300.20 L105.50,303.80 M107.06,301.10 L103.94,302.90 M107.06,302.90 L103.94,301.10 " stroke="#6a6a6a" stroke-width="1.3" stroke-linecap="round"/>
<circle cx="105.50" cy="302.00" r="0.99" fill="#6a6a6a"/>
<text x="84.00" y="222.20" font-family="'Liberation Serif', serif" font-size="7.9" font-weight="bold" text-anchor="start" fill="#000"  stroke="#000" stroke-width="0.22">T/DC</text>
<rect x="82.4" y="225.70" width="4" height="4" fill="url(#hatch2)" stroke="#333" stroke-width="0.7"/>
<text x="89.50" y="230.40" font-family="'Liberation Sans', sans-serif" font-size="7.6" font-weight="normal" text-anchor="start" fill="#222"  stroke="#222" stroke-width="0.12">10:1</text>
<rect x="82.4" y="234.05" width="4" height="4" fill="#999" stroke="#333" stroke-width="0.7"/>
<text x="89.50" y="238.75" font-family="'Liberation Sans', sans-serif" font-size="7.6" font-weight="normal" text-anchor="start" fill="#222"  stroke="#222" stroke-width="0.12">100:1</text>
<rect x="82.4" y="242.40" width="4" height="4" fill="#fff" stroke="#333" stroke-width="0.7"/>
<text x="89.50" y="247.10" font-family="'Liberation Sans', sans-serif" font-size="7.6" font-weight="normal" text-anchor="start" fill="#222"  stroke="#222" stroke-width="0.12">1000:1</text>
<rect x="82.4" y="250.75" width="4" height="4" fill="#000" stroke="#333" stroke-width="0.7"/>
<text x="89.50" y="255.45" font-family="'Liberation Sans', sans-serif" font-size="7.6" font-weight="normal" text-anchor="start" fill="#222"  stroke="#222" stroke-width="0.12">T cell alone</text>
<text x="68.80" y="336.80" font-family="'Liberation Sans', sans-serif" font-size="7.5" font-weight="normal" text-anchor="middle" fill="#222"  stroke="#222" stroke-width="0.12">BMDC</text>
<text x="114.30" y="336.80" font-family="'Liberation Sans', sans-serif" font-size="7.5" font-weight="normal" text-anchor="middle" fill="#222"  stroke="#222" stroke-width="0.12">TCCM-cells</text>
<text x="158.80" y="336.80" font-family="'Liberation Sans', sans-serif" font-size="7.5" font-weight="normal" text-anchor="middle" fill="#222"  stroke="#222" stroke-width="0.12">TCCM-</text>
<text x="158.40" y="346.80" font-family="'Liberation Sans', sans-serif" font-size="7.5" font-weight="normal" text-anchor="middle" fill="#222"  stroke="#222" stroke-width="0.12">cells+SB</text>
<text x="203.10" y="336.80" font-family="'Liberation Sans', sans-serif" font-size="7.5" font-weight="normal" text-anchor="middle" fill="#222"  stroke="#222" stroke-width="0.12">SB-cells</text>
<text x="136.50" y="359.80" font-family="'Liberation Serif', serif" font-size="9.4" font-weight="bold" text-anchor="middle" fill="#000"  stroke="#000" stroke-width="0.22">Stimulatory cells</text>
<text x="0.00" y="0.00" font-family="'Liberation Serif', serif" font-size="9.4" font-weight="bold" text-anchor="middle" fill="#000" transform="translate(8.6,263.2) rotate(-90)" stroke="#000" stroke-width="0.22">CPM</text>
<rect x="310.0" y="210.5" width="208.5" height="99.80000000000001" fill="none" stroke="#999" stroke-width="1.2"/>
<text x="302.90" y="313.40" font-family="'Liberation Sans', sans-serif" font-size="8.8" font-weight="normal" text-anchor="end" fill="#222"  stroke="#222" stroke-width="0.12">0</text>
<text x="302.90" y="296.77" font-family="'Liberation Sans', sans-serif" font-size="8.8" font-weight="normal" text-anchor="end" fill="#222"  stroke="#222" stroke-width="0.12">500</text>
<text x="302.90" y="280.13" font-family="'Liberation Sans', sans-serif" font-size="8.8" font-weight="normal" text-anchor="end" fill="#222"  stroke="#222" stroke-width="0.12">1000</text>
<text x="302.90" y="263.50" font-family="'Liberation Sans', sans-serif" font-size="8.8" font-weight="normal" text-anchor="end" fill="#222"  stroke="#222" stroke-width="0.12">1500</text>
<text x="302.90" y="246.87" font-family="'Liberation Sans', sans-serif" font-size="8.8" font-weight="normal" text-anchor="end" fill="#222"  stroke="#222" stroke-width="0.12">2000</text>
<text x="302.90" y="230.23" font-family="'Liberation Sans', sans-serif" font-size="8.8" font-weight="normal" text-anchor="end" fill="#222"  stroke="#222" stroke-width="0.12">2500</text>
<text x="302.90" y="213.60" font-family="'Liberation Sans', sans-serif" font-size="8.8" font-weight="normal" text-anchor="end" fill="#222"  stroke="#222" stroke-width="0.12">3000</text>
<rect x="313.30" y="302.32" width="4.85" height="7.98" fill="#fff" stroke="#222" stroke-width="0.95"/>
<rect x="318.15" y="300.32" width="4.85" height="9.98" fill="#000" stroke="#222" stroke-width="0.95"/>
<rect x="323.00" y="298.49" width="4.85" height="11.81" fill="url(#hatch)" stroke="#222" stroke-width="0.95"/>
<rect x="327.85" y="261.50" width="4.85" height="48.80" fill="#fff" stroke="#222" stroke-width="0.95"/>
<path d="M330.28,261.50 V257.67 M327.78,257.67 H332.78" stroke="#222" stroke-width="1"/>
<rect x="339.30" y="304.81" width="4.85" height="5.49" fill="#fff" stroke="#222" stroke-width="0.95"/>
<rect x="344.15" y="306.61" width="4.85" height="3.69" fill="#000" stroke="#222" stroke-width="0.95"/>
<rect x="349.00" y="306.31" width="4.85" height="3.99" fill="url(#hatch)" stroke="#222" stroke-width="0.95"/>
<rect x="353.85" y="302.81" width="4.85" height="7.49" fill="#fff" stroke="#222" stroke-width="0.95"/>
<path d="M356.28,302.81 V301.65 M353.78,301.65 H358.78" stroke="#222" stroke-width="1"/>
<rect x="365.30" y="303.88" width="4.85" height="6.42" fill="#fff" stroke="#222" stroke-width="0.95"/>
<rect x="370.15" y="305.08" width="4.85" height="5.22" fill="#000" stroke="#222" stroke-width="0.95"/>
<rect x="375.00" y="302.15" width="4.85" height="8.15" fill="url(#hatch)" stroke="#222" stroke-width="0.95"/>
<rect x="379.85" y="271.05" width="4.85" height="39.25" fill="#fff" stroke="#222" stroke-width="0.95"/>
<path d="M382.28,271.05 V264.72 M379.78,264.72 H384.78" stroke="#222" stroke-width="1"/>
<rect x="391.30" y="304.81" width="4.85" height="5.49" fill="#fff" stroke="#222" stroke-width="0.95"/>
<rect x="396.15" y="299.49" width="4.85" height="10.81" fill="#000" stroke="#222" stroke-width="0.95"/>
<rect x="401.00" y="292.34" width="4.85" height="17.96" fill="url(#hatch)" stroke="#222" stroke-width="0.95"/>
<rect x="405.85" y="235.65" width="4.85" height="74.65" fill="#fff" stroke="#222" stroke-width="0.95"/>
<path d="M408.28,235.65 V231.49 M405.78,231.49 H410.78" stroke="#222" stroke-width="1"/>
<rect x="417.30" y="299.99" width="4.85" height="10.31" fill="#fff" stroke="#222" stroke-width="0.95"/>
<rect x="422.15" y="304.81" width="4.85" height="5.49" fill="#000" stroke="#222" stroke-width="0.95"/>
<rect x="427.00" y="302.88" width="4.85" height="7.42" fill="url(#hatch)" stroke="#222" stroke-width="0.95"/>
<rect x="431.85" y="275.70" width="4.85" height="34.60" fill="#fff" stroke="#222" stroke-width="0.95"/>
<path d="M434.28,275.70 V269.88 M431.78,269.88 H436.78" stroke="#222" stroke-width="1"/>
<rect x="443.30" y="304.15" width="4.85" height="6.15" fill="#fff" stroke="#222" stroke-width="0.95"/>
<rect x="448.15" y="300.82" width="4.85" height="9.48" fill="#000" stroke="#222" stroke-width="0.95"/>
<rect x="453.00" y="292.07" width="4.85" height="18.23" fill="url(#hatch)" stroke="#222" stroke-width="0.95"/>
<rect x="457.85" y="234.85" width="4.85" height="75.45" fill="#fff" stroke="#222" stroke-width="0.95"/>
<path d="M460.28,234.85 V231.52 M457.78,231.52 H462.78" stroke="#222" stroke-width="1"/>
<rect x="469.30" y="302.08" width="4.85" height="8.22" fill="#fff" stroke="#222" stroke-width="0.95"/>
<rect x="474.15" y="303.48" width="4.85" height="6.82" fill="#000" stroke="#222" stroke-width="0.95"/>
<rect x="479.00" y="299.49" width="4.85" height="10.81" fill="url(#hatch)" stroke="#222" stroke-width="0.95"/>
<rect x="483.85" y="264.72" width="4.85" height="45.58" fill="#fff" stroke="#222" stroke-width="0.95"/>
<path d="M486.28,264.72 V260.50 M483.78,260.50 H488.78" stroke="#222" stroke-width="1"/>
<rect x="495.30" y="304.81" width="4.85" height="5.49" fill="#fff" stroke="#222" stroke-width="0.95"/>
<rect x="500.15" y="299.49" width="4.85" height="10.81" fill="#000" stroke="#222" stroke-width="0.95"/>
<rect x="505.00" y="287.01" width="4.85" height="23.29" fill="url(#hatch)" stroke="#222" stroke-width="0.95"/>
<rect x="509.85" y="234.85" width="4.85" height="75.45" fill="#fff" stroke="#222" stroke-width="0.95"/>
<path d="M512.27,234.85 V230.53 M509.77,230.53 H514.77" stroke="#222" stroke-width="1"/>
<path d="M341.30,297.00 L341.30,300.60 M342.86,297.90 L339.74,299.70 M342.86,299.70 L339.74,297.90 " stroke="#6a6a6a" stroke-width="1.3" stroke-linecap="round"/>
<circle cx="341.30" cy="298.80" r="0.99" fill="#6a6a6a"/>
<path d="M347.10,297.00 L347.10,300.60 M348.66,297.90 L345.54,299.70 M348.66,299.70 L345.54,297.90 " stroke="#6a6a6a" stroke-width="1.3" stroke-linecap="round"/>
<circle cx="347.10" cy="298.80" r="0.99" fill="#6a6a6a"/>
<rect x="327.6" y="217.2" width="4.8" height="4.8" fill="#fff" stroke="#222" stroke-width="0.8"/>
<text x="335.90" y="222.60" font-family="'Liberation Sans', sans-serif" font-size="9.0" font-weight="normal" text-anchor="start" fill="#222" letter-spacing="-0.2" stroke="#222" stroke-width="0.12">CD11c</text>
<rect x="367.4" y="217.2" width="4.8" height="4.8" fill="#000" stroke="#222" stroke-width="0.8"/>
<text x="375.80" y="222.60" font-family="'Liberation Sans', sans-serif" font-size="9.0" font-weight="normal" text-anchor="start" fill="#222" letter-spacing="-0.2" stroke="#222" stroke-width="0.12">CD40</text>
<rect x="401.8" y="217.2" width="4.8" height="4.8" fill="url(#hatch2)" stroke="#222" stroke-width="0.8"/>
<text x="410.30" y="222.60" font-family="'Liberation Sans', sans-serif" font-size="9.0" font-weight="normal" text-anchor="start" fill="#222" letter-spacing="-0.2" stroke="#222" stroke-width="0.12">CD86</text>
<rect x="437.0" y="217.2" width="4.8" height="4.8" fill="#fff" stroke="#222" stroke-width="0.8"/>
<text x="445.00" y="222.60" font-family="'Liberation Sans', sans-serif" font-size="9.0" font-weight="normal" text-anchor="start" fill="#222" letter-spacing="-0.2" stroke="#222" stroke-width="0.12">MHC class</text>
<rect x="490.3" y="216.2" width="3.4" height="6.0" fill="#666"/>
<text x="0.00" y="0.00" font-family="'Liberation Sans', sans-serif" font-size="9.15" font-weight="normal" text-anchor="end" fill="#222" transform="translate(321.20,321.60) rotate(-45)" stroke="#222" stroke-width="0.12">BMDC</text>
<text x="0.00" y="0.00" font-family="'Liberation Sans', sans-serif" font-size="9.15" font-weight="normal" text-anchor="end" fill="#222" transform="translate(347.20,321.60) rotate(-45)" stroke="#222" stroke-width="0.12">TCCM-cell</text>
<text x="0.00" y="0.00" font-family="'Liberation Sans', sans-serif" font-size="9.15" font-weight="normal" text-anchor="end" fill="#222" transform="translate(373.20,321.60) rotate(-45)" stroke="#222" stroke-width="0.12">TCCM-cell+SB</text>
<text x="0.00" y="0.00" font-family="'Liberation Sans', sans-serif" font-size="9.15" font-weight="normal" text-anchor="end" fill="#222" transform="translate(399.20,321.60) rotate(-45)" stroke="#222" stroke-width="0.12">SB-cell</text>
<text x="0.00" y="0.00" font-family="'Liberation Sans', sans-serif" font-size="9.15" font-weight="normal" text-anchor="end" fill="#222" transform="translate(425.20,321.60) rotate(-45)" stroke="#222" stroke-width="0.12">TCCM-cell+SB90</text>
<text x="0.00" y="0.00" font-family="'Liberation Sans', sans-serif" font-size="9.15" font-weight="normal" text-anchor="end" fill="#222" transform="translate(451.20,321.60) rotate(-45)" stroke="#222" stroke-width="0.12">SB90-cell</text>
<text x="0.00" y="0.00" font-family="'Liberation Sans', sans-serif" font-size="9.15" font-weight="normal" text-anchor="end" fill="#222" transform="translate(477.20,321.60) rotate(-45)" stroke="#222" stroke-width="0.12">TCCM-cell+inhibitor II</text>
<text x="0.00" y="0.00" font-family="'Liberation Sans', sans-serif" font-size="9.15" font-weight="normal" text-anchor="end" fill="#222" transform="translate(503.20,321.60) rotate(-45)" stroke="#222" stroke-width="0.12">Inhibitor III-cell</text>
<text x="0.00" y="0.00" font-family="'Liberation Sans', sans-serif" font-size="9.3" font-weight="bold" text-anchor="middle" fill="#000" transform="translate(270.4,273.1) rotate(-90)" stroke="#000" stroke-width="0.12">Mean fluorescence intensity</text>
</svg>
</body></html>
